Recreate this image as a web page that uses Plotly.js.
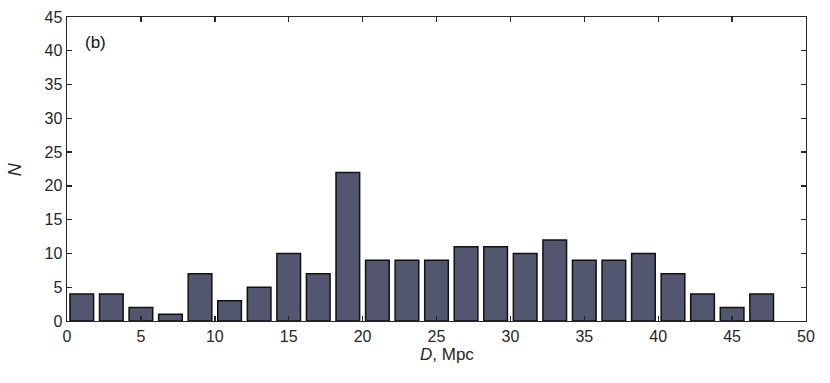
<!DOCTYPE html>
<html>
<head>
<meta charset="utf-8">
<script src="https://cdn.plot.ly/plotly-3.0.1.min.js"></script>
<style>body{margin:0;padding:0;background:#fff}#plot{width:830px;height:383px}</style>
</head>
<body>
<div id="plot"></div>
<script>
// distance bins (Mpc, bin centres) and counts
var centres = [1,3,5,7,9,11,13,15,17,19,21,23,25,27,29,31,33,35,37,39,41,43,45,47]
var counts  = [4,4,2,1,7,3,5,10,7,22,9,9,9,11,11,10,12,9,9,10,7,4,2,4]
var xticks = [0,5,10,15,20,25,30,35,40,45,50]
var yticks = [0,5,10,15,20,25,30,35,40,45]

var font = "Liberation Sans, Arial, sans-serif"
var ink = "#262626"

var trace = {
    x: centres,
    y: counts,
    type: "bar",
    width: 1.6,
    marker: {color: "#53566f", line: {color: "#111", width: 1.5}},
    hoverinfo: "skip"
}

var axisStyle = {
    showline: true, mirror: "ticks", linecolor: ink, linewidth: 1.4,
    ticks: "inside", ticklen: 5, tickwidth: 1.4, tickcolor: ink,
    showgrid: false, zeroline: false,
    tickfont: {family: font, size: 16, color: ink}
}

var layout = {
    width: 830, height: 383,
    margin: {l: 67, r: 24, t: 17, b: 62},
    paper_bgcolor: "#fff", plot_bgcolor: "#fff",
    showlegend: false,
    bargap: 0,
    xaxis: Object.assign({}, axisStyle, {
        range: [0, 50], tickvals: xticks, ticktext: xticks.map(String)
    }),
    yaxis: Object.assign({}, axisStyle, {
        range: [0, 45], tickvals: yticks, ticktext: yticks.map(String)
    }),
    annotations: [{
        text: "(b)", xref: "paper", yref: "paper", x: 0.021, y: 0.955,
        xanchor: "left", yanchor: "top", showarrow: false,
        font: {family: font, size: 17, color: "#111"}
    }, {
        text: "<i>D</i>, Mpc", xref: "paper", yref: "paper", x: 0.514, y: -0.11,
        xanchor: "center", yanchor: "middle", showarrow: false, borderpad: 0,
        font: {family: font, size: 17, color: ink}
    }, {
        text: "<i>N</i>", xref: "paper", yref: "paper", x: -0.070, y: 0.5,
        xanchor: "center", yanchor: "middle", showarrow: false, textangle: -90,
        font: {family: font, size: 18, color: ink}
    }]
}

Plotly.newPlot("plot", [trace], layout, {staticPlot: true})
</script>
</body>
</html>
